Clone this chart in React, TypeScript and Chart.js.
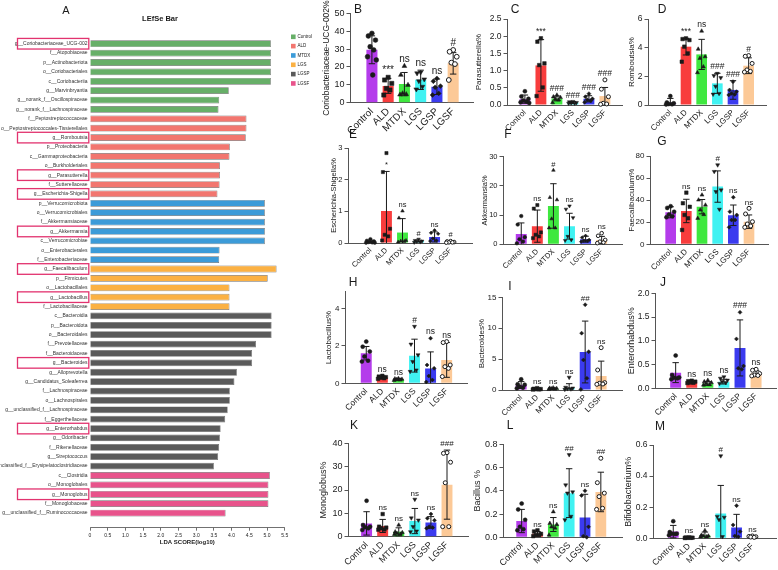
import React, { useEffect, useRef } from "react";
import { Chart, registerables } from "chart.js";

Chart.register(...registerables);

const FONT = "'Liberation Sans', Arial, Helvetica, sans-serif";
const INK = "#1a1a1a";
const AXIS = "#555555";

// ---------------- Panel A : LEfSe ----------------
const lefseTaxa = [
  "g__Coriobacteriaceae_UCG-002", "f__Atopobiaceae", "p__Actinobacteriota", "o__Coriobacteriales", "c__Coriobacteriia",
  "g__Marvinbryantia", "g__norank_f__Oscillospiraceae", "g__norank_f__Lachnospiraceae",
  "f__Peptostreptococcaceae", "o__Peptostreptococcales-Tissierellales", "g__Romboutsia", "p__Proteobacteria",
  "c__Gammaproteobacteria", "o__Burkholderiales", "g__Parasutterella", "f__Sutterellaceae", "g__Escherichia-Shigella",
  "p__Verrucomicrobiota", "o__Verrucomicrobiales", "f__Akkermansiaceae", "g__Akkermansia", "c__Verrucomicrobiae",
  "o__Enterobacterales", "f__Enterobacteriaceae",
  "g__Faecalibaculum", "p__Firmicutes", "o__Lactobacillales", "g__Lactobacillus", "f__Lactobacillaceae",
  "c__Bacteroidia", "p__Bacteroidota", "o__Bacteroidales", "f__Prevotellaceae", "f__Bacteroidaceae", "g__Bacteroides",
  "g__Alloprevotella", "g__Candidatus_Soleaferrea", "f__Lachnospiraceae", "o__Lachnospirales",
  "g__unclassified_f__Lachnospiraceae", "f__Eggerthellaceae", "g__Enterorhabdus", "g__Odoribacter", "f__Rikenellaceae",
  "g__Streptococcus", "g__unclassified_f__Erysipelatoclostridiaceae",
  "c__Clostridia", "o__Monoglobales", "g__Monoglobus", "f__Monoglobaceae", "g__unclassified_f__Ruminococcaceae",
];
const lefseScores = [
  5.11, 5.11, 5.11, 5.11, 5.11, 3.92, 3.65, 3.63,
  4.42, 4.42, 4.40, 3.95, 3.94, 3.67, 3.67, 3.66, 3.60,
  4.94, 4.94, 4.94, 4.94, 4.94, 3.66, 3.65,
  5.27, 5.02, 3.94, 3.94, 3.94,
  5.13, 5.13, 5.13, 4.69, 4.58, 4.58, 4.15, 4.08, 3.95, 3.95, 3.89, 3.82, 3.69, 3.67, 3.65, 3.62, 3.50,
  5.08, 5.04, 5.04, 5.04, 3.83,
];
const lefseGroup = [
  0, 0, 0, 0, 0, 0, 0, 0,
  1, 1, 1, 1, 1, 1, 1, 1, 1,
  2, 2, 2, 2, 2, 2, 2,
  3, 3, 3, 3, 3,
  4, 4, 4, 4, 4, 4, 4, 4, 4, 4, 4, 4, 4, 4, 4, 4, 4,
  5, 5, 5, 5, 5,
];
const lefseGroupNames = ["Control", "ALD", "MTDX", "LGS", "LGSP", "LGSF"];
const lefseColors = ["#67AF68", "#F2766F", "#3C9BD8", "#FBB143", "#5A5A5A", "#E8538B"];
const lefseBoxed = [
  "g__Coriobacteriaceae_UCG-002", "g__Romboutsia", "g__Parasutterella", "g__Escherichia-Shigella", "g__Akkermansia",
  "g__Faecalibaculum", "g__Lactobacillus", "g__Bacteroides", "g__Enterorhabdus", "g__Monoglobus",
];
const ldaTicks = [0, 0.5, 1, 1.5, 2, 2.5, 3, 3.5, 4, 4.5, 5, 5.5];

// ---------------- Panels B-M ----------------
const groups = ["Control", "ALD", "MTDX", "LGS", "LGSP", "LGSF"];
const barColors = ["#B43CEB", "#F83D3D", "#3FE83F", "#40F2F2", "#3B3BEF", "#FCC997"];

// B Coriobacteriaceae-UCG-002
const coriTicks = [0, 10, 20, 30, 40, 50];
const coriMean = [29.6, 9.4, 10.4, 12.8, 8.9, 22.0];
const coriSD = [7.8, 4.2, 6.5, 5.4, 4.3, 6.0];
const coriPts = [
  [38.8, 37.3, 35.0, 31.3, 29.5, 25.7, 23.9, 15.5],
  [14.2, 12.7, 10.8, 8.0, 7.1, 4.3],
  [20.5, 15.5, 9.9, 5.2, 4.7, 4.5],
  [17.0, 16.5, 13.1, 12.1, 9.0, 7.5],
  [13.6, 12.0, 9.3, 8.6, 5.2, 4.3],
  [29.5, 28.5, 25.7, 22.4, 21.6, 12.7],
];
const coriSig = ["", "***", "ns", "ns", "ns", "#"];

// C Parasutterella
const paraTicks = [0, 0.5, 1, 1.5, 2, 2.5];
const paraMean = [0.17, 1.15, 0.19, 0.07, 0.18, 0.26];
const paraSD = [0.12, 0.75, 0.07, 0.03, 0.09, 0.25];
const paraPts = [
  [0.40, 0.25, 0.18, 0.13, 0.10, 0.08, 0.06],
  [1.94, 1.84, 1.21, 1.16, 0.51, 0.26],
  [0.29, 0.24, 0.22, 0.17, 0.15, 0.07],
  [0.10, 0.09, 0.07, 0.06, 0.05, 0.05],
  [0.33, 0.24, 0.18, 0.15, 0.12, 0.08],
  [0.73, 0.46, 0.24, 0.05, 0.03, 0.02],
];
const paraSig = ["", "***", "###", "###", "###", "###"];

// D Romboutsia
const rombTicks = [0, 2, 4, 6];
const rombMean = [0.16, 4.07, 3.53, 1.51, 1.05, 2.74];
const rombSD = [0.3, 0.58, 1.05, 0.7, 0.65, 0.55];
const rombPts = [
  [0.62, 0.18, 0.12, 0.07, 0.05, 0.04],
  [4.65, 4.60, 4.53, 4.07, 3.60, 3.02],
  [5.16, 3.90, 3.37, 3.26, 2.67, 2.26],
  [2.20, 2.05, 1.90, 1.30, 0.80, 0.75],
  [1.63, 1.05, 0.93, 0.81, 0.74, 0.70],
  [3.45, 3.40, 2.90, 2.45, 2.35, 2.30],
];
const rombSig = ["", "***", "ns", "###", "###", "#"];

// E Escherichia-Shigella
const eschTicks = [0, 1, 2, 3];
const eschMean = [0.03, 1.01, 0.33, 0.06, 0.19, 0.03];
const eschSD = [0.03, 1.25, 0.44, 0.03, 0.16, 0.02];
const eschPts = [
  [0.12, 0.07, 0.05, 0.03, 0.02, 0.01, 0.01],
  [2.84, 2.24, 0.45, 0.26, 0.21, 0.08],
  [1.01, 0.79, 0.08, 0.06, 0.05, 0.03],
  [0.12, 0.08, 0.06, 0.05, 0.03, 0.02],
  [0.40, 0.32, 0.29, 0.14, 0.08, 0.06],
  [0.06, 0.05, 0.03, 0.02, 0.02, 0.01],
];
const eschSig = ["", "*", "ns", "#", "ns", "#"];
const eschSigAt = [null, 2.28, null, null, null, null];

// F Akkermansia
const akkTicks = [0, 10, 20, 30];
const akkMean = [3.5, 6.2, 13.1, 6.2, 1.74, 1.5];
const akkSD = [3.8, 5.5, 7.6, 4.4, 1.0, 1.2];
const akkPts = [
  [9.65, 6.74, 2.44, 1.74, 0.93, 0.35],
  [13.4, 12.2, 4.07, 3.26, 2.7, 2.1],
  [25.3, 16.0, 15.2, 8.7, 5.6, 5.6],
  [13.1, 12.0, 9.1, 2.7, 1.5, 1.3],
  [2.9, 2.3, 1.5, 1.3, 1.2, 0.9],
  [3.8, 2.9, 1.5, 0.9, 0.6, 0.4],
];
const akkSig = ["", "ns", "#", "ns", "ns", "ns"];

// G Faecalibaculum
const faecTicks = [0, 20, 40, 60, 80];
const faecMean = [29.0, 30.2, 34.1, 52.3, 26.3, 20.5];
const faecSD = [5.0, 10.6, 6.5, 14.2, 9.3, 6.1];
const faecPts = [
  [34.5, 33.0, 29.5, 27.0, 25.5, 24.5],
  [46.8, 37.2, 34.0, 26.6, 23.6, 13.0],
  [44.7, 40.2, 35.6, 31.1, 27.0, 23.6],
  [71.9, 65.9, 49.2, 47.7, 31.7],
  [42.6, 29.6, 26.6, 22.0, 22.0, 15.4],
  [32.6, 27.5, 20.5, 18.4, 16.6, 15.4],
];
const faecSig = ["", "ns", "ns", "#", "ns", "ns"];

// H Lactobacillus
const lactTicks = [0, 2, 4];
const lactMean = [1.61, 0.32, 0.21, 1.48, 0.79, 1.25];
const lactSD = [0.36, 0.07, 0.05, 0.88, 0.89, 0.93];
const lactPts = [
  [2.23, 1.96, 1.70, 1.43, 1.21, 1.16],
  [0.40, 0.36, 0.33, 0.30, 0.27, 0.24],
  [0.26, 0.24, 0.22, 0.20, 0.18, 0.16],
  [3.04, 2.09, 1.52, 1.16, 0.71, 0.63],
  [2.41, 0.98, 0.80, 0.39, 0.18, 0.07],
  [2.23, 2.18, 0.98, 0.89, 0.80, 0.36],
];
const lactSig = ["", "ns", "ns", "#", "ns", "ns"];

// I Bacteroides
const bactTicks = [0, 5, 10, 15];
const bactMean = [0.81, 0.16, 0.22, 0.32, 6.15, 2.27];
const bactSD = [0.55, 0.10, 0.10, 0.70, 5.0, 2.4];
const bactPts = [
  [1.73, 0.92, 0.85, 0.54, 0.38, 0.27],
  [0.30, 0.20, 0.15, 0.12, 0.10, 0.08],
  [0.35, 0.30, 0.25, 0.20, 0.15, 0.10],
  [2.05, 0.43, 0.30, 0.20, 0.16, 0.10],
  [13.8, 9.2, 6.2, 4.86, 1.89, 0.10],
  [6.85, 3.24, 1.19, 1.08, 0.97, 0.92],
];
const bactSig = ["", "ns", "ns", "ns", "##", "ns"];

// J Enterorhabdus
const entTicks = [0, 0.5, 1, 1.5, 2];
const entMean = [0.33, 0.12, 0.10, 0.14, 0.85, 0.31];
const entSD = [0.21, 0.03, 0.04, 0.05, 0.59, 0.06];
const entPts = [
  [0.69, 0.28, 0.23, 0.22, 0.21, 0.19],
  [0.16, 0.15, 0.14, 0.13, 0.12, 0.11],
  [0.17, 0.14, 0.12, 0.10, 0.08, 0.07],
  [0.24, 0.21, 0.17, 0.14, 0.12, 0.10],
  [1.60, 1.04, 0.47, 0.42, 0.40],
  [0.40, 0.38, 0.31, 0.28, 0.27, 0.26],
];
const entSig = ["", "ns", "ns", "ns", "###", "ns"];

// K Monoglobus
const monoTicks = [0, 10, 20, 30, 40];
const monoMean = [5.7, 4.6, 2.1, 6.7, 6.1, 22.3];
const monoSD = [5.0, 2.8, 1.7, 5.4, 2.5, 14.8];
const monoPts = [
  [15.4, 5.0, 4.3, 4.0, 3.6, 2.9],
  [9.7, 4.3, 3.9, 3.6, 3.1, 3.0],
  [5.0, 2.1, 1.8, 1.4, 1.1, 1.0],
  [16.0, 8.0, 7.1, 4.3, 2.4, 2.1],
  [9.7, 7.9, 7.0, 4.3, 3.9, 3.6],
  [36.0, 35.7, 31.9, 23.1, 4.3, 4.3],
];
const monoSig = ["", "ns", "ns", "ns", "ns", "###"];

// L Bacillus
const bacTicks = [0, 0.2, 0.4, 0.6, 0.8];
const bacMean = [0.14, 0.03, 0.11, 0.38, 0.17, 0.39];
const bacSD = [0.10, 0.02, 0.06, 0.21, 0.20, 0.17];
const bacPts = [
  [0.29, 0.24, 0.15, 0.09, 0.07, 0.06],
  [0.06, 0.05, 0.03, 0.02, 0.02, 0.01],
  [0.22, 0.12, 0.11, 0.09, 0.08, 0.02],
  [0.71, 0.45, 0.39, 0.38, 0.18, 0.15],
  [0.40, 0.36, 0.09, 0.01, 0.00],
  [0.68, 0.47, 0.38, 0.35, 0.25, 0.24],
];
const bacSig = ["", "ns", "ns", "##", "ns", "##"];

// M Bifidobacterium
const bifTicks = [0, 0.2, 0.4, 0.6];
const bifMean = [0.043, 0.004, 0.02, 0.16, 0.069, 0.01];
const bifSD = [0.04, 0.003, 0.02, 0.18, 0.085, 0.005];
const bifPts = [
  [0.11, 0.04, 0.03, 0.03, 0.028, 0.02],
  [0.006, 0.005, 0.004, 0.003, 0.003, 0.002],
  [0.05, 0.02, 0.015, 0.015, 0.01, 0.01],
  [0.53, 0.14, 0.135, 0.12, 0.01],
  [0.21, 0.086, 0.043, 0.015, 0.01],
  [0.015, 0.012, 0.01, 0.008, 0.006],
];
const bifSig = ["", "ns", "ns", "#", "ns", "ns"];

// ---------------- layout / styling of the small panels ----------------
const panels = [
  { letter: "B", lx: 358, ly: 10, title: "Coriobacteriaceae-UCG-002%", tx: 327, axisX: 350, axisEnd: 473, c0: 364, sp: 19.5, top: 13.3, bottom: 102.7, max: 50, ticks: coriTicks, dec: 0, mean: coriMean, sd: coriSD, pts: coriPts, sig: coriSig, fs: { tick: 9, x: 10, title: 8.5, annot: 10 }, pr: 2.4 },
  { letter: "C", lx: 515, ly: 10, title: "Parasutterella%", tx: 479, axisX: 507, axisEnd: 622, c0: 517, sp: 19.2, top: 19, bottom: 105, max: 2.5, ticks: paraTicks, dec: 1, mean: paraMean, sd: paraSD, pts: paraPts, sig: paraSig, fs: { tick: 8.5, x: 8, title: 8, annot: 8.5 }, pr: 2 },
  { letter: "D", lx: 662, ly: 10, title: "Romboutsia%", tx: 632, axisX: 648, axisEnd: 766, c0: 663, sp: 18.8, top: 19, bottom: 105, max: 6, ticks: rombTicks, dec: 0, mean: rombMean, sd: rombSD, pts: rombPts, sig: rombSig, fs: { tick: 8.5, x: 8, title: 8, annot: 8.5 }, pr: 2 },
  { letter: "E", lx: 353, ly: 135, title: "Escherichia-Shigella%", tx: 333, axisX: 348, axisEnd: 472, c0: 362.5, sp: 19.25, top: 148, bottom: 243, max: 3, ticks: eschTicks, dec: 0, mean: eschMean, sd: eschSD, pts: eschPts, sig: eschSig, sigAt: eschSigAt, fs: { tick: 7.5, x: 7.5, title: 7.5, annot: 7.5 }, pr: 1.8 },
  { letter: "F", lx: 508, ly: 135, title: "Akkermansia%", tx: 484, axisX: 503, axisEnd: 622, c0: 513, sp: 19.3, top: 156.5, bottom: 244.3, max: 30, ticks: akkTicks, dec: 0, mean: akkMean, sd: akkSD, pts: akkPts, sig: akkSig, fs: { tick: 7.5, x: 7.5, title: 7.5, annot: 7.5 }, pr: 1.8, dashedBase: true },
  { letter: "G", lx: 662, ly: 142, title: "Faecalibaculum%", tx: 632, axisX: 650, axisEnd: 768, c0: 663, sp: 18.8, top: 156, bottom: 244.3, max: 80, ticks: faecTicks, dec: 0, mean: faecMean, sd: faecSD, pts: faecPts, sig: faecSig, fs: { tick: 8, x: 8, title: 8, annot: 8 }, pr: 2 },
  { letter: "H", lx: 353, ly: 283, title: "Lactobacillus%", tx: 329, axisX: 345, axisEnd: 467, c0: 358.3, sp: 19.3, top: 291.7, bottom: 383.3, max: 4.9, ticks: lactTicks, dec: 0, mean: lactMean, sd: lactSD, pts: lactPts, sig: lactSig, fs: { tick: 8, x: 8.5, title: 8, annot: 8.5 }, pr: 2 },
  { letter: "I", lx: 510, ly: 287, title: "Bacteroides%", tx: 482, axisX: 502, axisEnd: 622, c0: 513, sp: 19.2, top: 297.3, bottom: 390, max: 15, ticks: bactTicks, dec: 0, mean: bactMean, sd: bactSD, pts: bactPts, sig: bactSig, fs: { tick: 8, x: 8, title: 8, annot: 8 }, pr: 2 },
  { letter: "J", lx: 663, ly: 283, title: "Enterorhabdus%", tx: 631, axisX: 655, axisEnd: 776, c0: 667.7, sp: 19.3, top: 293.3, bottom: 388.3, max: 2, ticks: entTicks, dec: 1, mean: entMean, sd: entSD, pts: entPts, sig: entSig, fs: { tick: 8.5, x: 8.5, title: 9, annot: 8.5 }, pr: 2 },
  { letter: "K", lx: 354, ly: 426, title: "Monoglobus%", tx: 323, axisX: 348, axisEnd: 468, c0: 358.3, sp: 19.3, top: 443.3, bottom: 536.7, max: 40, ticks: monoTicks, dec: 0, mean: monoMean, sd: monoSD, pts: monoPts, sig: monoSig, fs: { tick: 9, x: 9, title: 9, annot: 8 }, pr: 2 },
  { letter: "L", lx: 510, ly: 426, title: "Bacillus %", tx: 477, axisX: 503, axisEnd: 622, c0: 513.5, sp: 19.0, top: 444.3, bottom: 537.3, max: 0.8, ticks: bacTicks, dec: 1, mean: bacMean, sd: bacSD, pts: bacPts, sig: bacSig, fs: { tick: 9, x: 9, title: 9, annot: 8 }, pr: 2 },
  { letter: "M", lx: 660, ly: 427, title: "Bifidobacterium%", tx: 628, axisX: 653, axisEnd: 776, c0: 665, sp: 19.0, top: 445, bottom: 538.3, max: 0.6, ticks: bifTicks, dec: 1, mean: bifMean, sd: bifSD, pts: bifPts, sig: bifSig, fs: { tick: 8.5, x: 8.5, title: 9, annot: 8 }, pr: 2 },
];

const jitter = [0, -0.22, 0.22, -0.11, 0.11, -0.27, 0.27, 0.05];
const markerStyle = ["circle", "rect", "triangle", "triangle", "rectRot", "circle"];
const markerRot = [0, 0, 0, 180, 0, 0];
const markerScale = [1, 1.25, 1.15, 1.15, 1.0, 1];

function LefsePanel() {
  const ref = useRef<HTMLCanvasElement>(null);
  const W = 330, H = 570;
  useEffect(() => {
    const plotL = 90, plotR = 284.7, plotT = 34.2, plotB = 527.7;
    const rowH = (517.7 - 39) / 50;
    const yMax = (plotB - plotT) / rowH - 0.5;
    const deco = {
      id: "lefseDeco",
      afterDraw(chart: any) {
        const { ctx } = chart;
        const y = chart.scales.y;
        ctx.save();
        ctx.strokeStyle = "#E2336F";
        ctx.lineWidth = 1.3;
        lefseBoxed.forEach((name) => {
          const i = lefseTaxa.indexOf(name);
          const yc = y.getPixelForValue(i);
          ctx.strokeRect(17.5, yc - 5.3, 71.3, 10.6);
        });
        ctx.fillStyle = INK;
        ctx.textAlign = "center";
        ctx.textBaseline = "middle";
        ctx.font = `11px ${FONT}`;
        ctx.fillText("A", 66, 11);
        ctx.font = `bold 7.5px ${FONT}`;
        ctx.fillText("LEfSe Bar", 160, 18.5);
        ctx.textAlign = "left";
        ctx.font = `4.5px ${FONT}`;
        lefseGroupNames.forEach((n, g) => {
          const yy = 36.8 + g * 9.33;
          ctx.fillStyle = lefseColors[g];
          ctx.fillRect(291, yy - 2.3, 4.6, 4.6);
          ctx.fillStyle = INK;
          ctx.fillText(n, 297.5, yy);
        });
        ctx.restore();
      },
    };
    const chart = new Chart(ref.current as HTMLCanvasElement, {
      type: "bar",
      data: {
        datasets: [
          {
            data: lefseScores.map((v, i) => ({ x: v, y: i })),
            backgroundColor: lefseGroup.map((g) => lefseColors[g]),
            borderColor: "#6f6f6f",
            borderWidth: 0.7,
            barPercentage: 0.72,
            categoryPercentage: 1,
          } as any,
        ],
      },
      options: {
        indexAxis: "y",
        animation: false,
        responsive: false,
        devicePixelRatio: 1,
        layout: { padding: { left: 0, top: plotT, right: W - plotR, bottom: 0 } },
        plugins: { legend: { display: false }, tooltip: { enabled: false } },
        scales: {
          x: {
            type: "linear",
            min: 0,
            max: 5.5,
            afterBuildTicks: (s: any) => {
              s.ticks = ldaTicks.map((v) => ({ value: v }));
            },
            afterFit: (s: any) => {
              s.height = H - plotB;
            },
            grid: { display: true, drawOnChartArea: false, drawTicks: true, tickLength: 3, color: "#333", lineWidth: 0.7 },
            border: { display: true, color: "#333", width: 0.7 },
            ticks: { font: { family: FONT, size: 5 }, color: "#222", padding: 1.5, maxRotation: 0, minRotation: 0, autoSkip: false },
            title: { display: true, text: "LDA SCORE(log10)", color: "#222", font: { family: FONT, size: 6, weight: "bold" }, padding: { top: 0, bottom: 24.5 } },
          },
          y: {
            type: "linear",
            reverse: true,
            min: -0.5,
            max: yMax,
            afterBuildTicks: (s: any) => {
              s.ticks = lefseTaxa.map((_, i) => ({ value: i }));
            },
            afterFit: (s: any) => {
              s.width = plotL;
            },
            ticks: { font: { family: FONT, size: 5 }, color: "#333", padding: 2.5, autoSkip: false, callback: (v: any) => lefseTaxa[v] ?? "" },
            grid: { display: false, drawTicks: false },
            border: { display: false },
          },
        },
      } as any,
      plugins: [deco],
    });
    return () => chart.destroy();
  }, []);
  return <canvas ref={ref} width={W} height={H} style={{ position: "absolute", left: 0, top: 0, width: W, height: H }} />;
}

function BarPanel({ p }: { p: any }) {
  const ref = useRef<HTMLCanvasElement>(null);
  const cl = Math.round(p.tx - p.fs.title * 0.6);
  const ct = Math.round(p.ly - 10);
  const cw = Math.round(p.axisEnd + 10 - cl);
  const ch = Math.round(p.bottom + 46 - ct);
  useEffect(() => {
    const xmin = -(p.c0 - p.axisX) / p.sp;
    const xmax = (p.axisEnd - p.c0) / p.sp;
    const cap = 3.2;
    const deco = {
      id: "panelDeco",
      afterDatasetDraw(chart: any, args: any) {
        if (args.index !== 0) return;
        const { ctx } = chart;
        const x = chart.scales.x;
        const y = chart.scales.y;
        ctx.save();
        ctx.strokeStyle = INK;
        ctx.lineWidth = 1;
        p.mean.forEach((m: number, i: number) => {
          const s = p.sd[i];
          const cx = x.getPixelForValue(i);
          const yt = y.getPixelForValue(m + s);
          const yb = y.getPixelForValue(Math.max(0, m - s));
          ctx.beginPath();
          ctx.moveTo(cx, yt);
          ctx.lineTo(cx, yb);
          ctx.moveTo(cx - cap, yt);
          ctx.lineTo(cx + cap, yt);
          if (m - s > 0) {
            ctx.moveTo(cx - cap, yb);
            ctx.lineTo(cx + cap, yb);
          }
          ctx.stroke();
        });
        ctx.restore();
      },
      afterDraw(chart: any) {
        const { ctx } = chart;
        const x = chart.scales.x;
        const y = chart.scales.y;
        ctx.save();
        ctx.fillStyle = INK;
        ctx.textAlign = "center";
        ctx.textBaseline = "bottom";
        ctx.font = `${p.fs.annot}px ${FONT}`;
        p.sig.forEach((t: string, i: number) => {
          if (!t) return;
          let topV = Math.max(p.mean[i] + p.sd[i], ...p.pts[i]);
          if (p.sigAt && p.sigAt[i] != null) topV = p.sigAt[i];
          ctx.fillText(t, x.getPixelForValue(i), y.getPixelForValue(topV) - 2);
        });
        ctx.font = `12px ${FONT}`;
        ctx.textBaseline = "middle";
        ctx.fillText(p.letter, p.lx - cl, p.ly - ct);
        ctx.restore();
      },
    };
    const ptDatasets = p.pts.map((arr: number[], g: number) => ({
      type: "scatter",
      data: arr.map((v, k) => ({ x: g + jitter[k % jitter.length], y: v })),
      pointStyle: markerStyle[g],
      rotation: markerRot[g],
      radius: p.pr * markerScale[g],
      backgroundColor: g === 5 ? "#ffffff" : INK,
      borderColor: INK,
      borderWidth: g === 5 ? 1 : 0.5,
      order: 0,
      clip: false,
    }));
    const chart = new Chart(ref.current as HTMLCanvasElement, {
      type: "bar",
      data: {
        datasets: [
          {
            type: "bar",
            data: p.mean.map((m: number, i: number) => ({ x: i, y: m })),
            backgroundColor: barColors,
            borderWidth: 0,
            barPercentage: 0.68,
            categoryPercentage: 1,
            order: 1,
          },
          ...ptDatasets,
        ] as any,
      },
      options: {
        animation: false,
        responsive: false,
        devicePixelRatio: 1,
        layout: { padding: { left: 0, top: p.top - ct, right: cw - (p.axisEnd - cl), bottom: 0 } },
        plugins: { legend: { display: false }, tooltip: { enabled: false } },
        scales: {
          x: {
            type: "linear",
            min: xmin,
            max: xmax,
            afterBuildTicks: (s: any) => {
              s.ticks = groups.map((_, i) => ({ value: i }));
            },
            afterFit: (s: any) => {
              s.height = ch - (p.bottom - ct);
            },
            ticks: {
              autoSkip: false,
              minRotation: 45,
              maxRotation: 45,
              padding: 3,
              font: { family: FONT, size: p.fs.x },
              color: INK,
              callback: (v: any) => groups[v] ?? "",
            },
            grid: { display: false, drawTicks: false },
            border: { display: true, color: AXIS, width: 1, dash: p.dashedBase ? [2, 2] : [] },
          },
          y: {
            type: "linear",
            min: 0,
            max: p.max,
            afterBuildTicks: (s: any) => {
              s.ticks = p.ticks.map((v: number) => ({ value: v }));
            },
            afterFit: (s: any) => {
              s.width = p.axisX - cl;
            },
            ticks: {
              padding: 2,
              font: { family: FONT, size: p.fs.tick },
              color: INK,
              callback: (v: any) => Number(v).toFixed(p.dec),
            },
            grid: { display: true, drawOnChartArea: false, drawTicks: true, tickLength: 3.5, color: AXIS, lineWidth: 1 },
            border: { display: true, color: AXIS, width: 1 },
            title: { display: true, text: p.title, padding: 0, color: INK, font: { family: FONT, size: p.fs.title } },
          },
        },
      } as any,
      plugins: [deco],
    });
    return () => chart.destroy();
  }, []);
  return <canvas ref={ref} width={cw} height={ch} style={{ position: "absolute", left: cl, top: ct, width: cw, height: ch }} />;
}

export default function App() {
  return (
    <div style={{ position: "fixed", left: 0, top: 0, width: 778, height: 570, background: "#ffffff", overflow: "hidden" }}>
      <LefsePanel />
      {panels.map((p) => (
        <BarPanel key={p.letter} p={p} />
      ))}
    </div>
  );
}
